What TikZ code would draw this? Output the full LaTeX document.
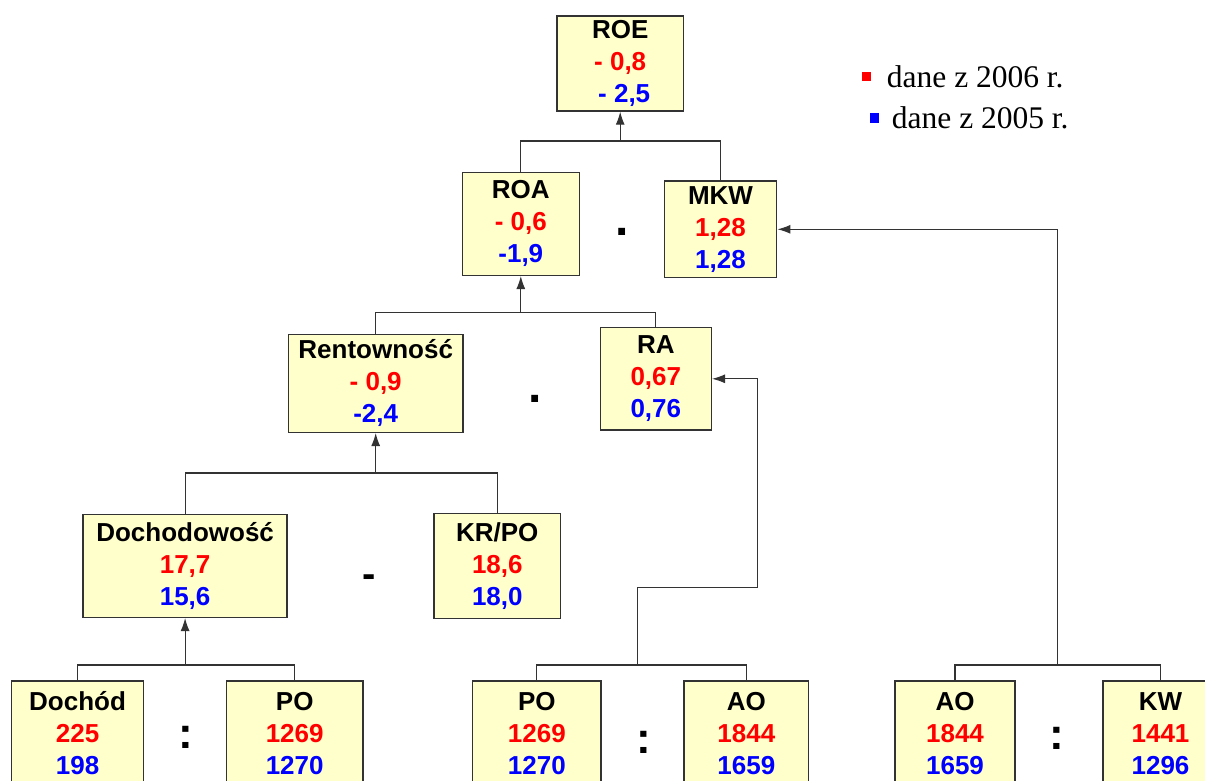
\documentclass[tikz,border=0pt]{standalone}
\usepackage{fontspec}
\setmainfont{Liberation Sans}
\newfontfamily\legfont{Liberation Serif}
\usetikzlibrary{arrows.meta}
\definecolor{boxfill}{HTML}{FFFFCC}
\definecolor{vred}{HTML}{FF0000}
\definecolor{vblue}{HTML}{0000FF}
\definecolor{edgecol}{HTML}{333333}
\newcommand{\rv}[1]{\textcolor{vred}{#1}}
\newcommand{\bv}[1]{\textcolor{vblue}{#1}}
\begin{document}
\begin{tikzpicture}[x=1pt,y=-1pt,
  valbox/.style={draw=edgecol, line width=1.5pt, fill=boxfill, align=center, inner sep=0pt,
    font=\fontsize{26}{32}\selectfont\bfseries},
  conn/.style={draw=edgecol, line width=1.1pt},
  arr/.style={conn, -{Latex[length=13pt,width=9pt]}},
  op/.style={inner sep=0pt},
  legtext/.style={anchor=base west, inner sep=0pt, font=\legfont\fontsize{31.5}{31.5}\selectfont}]
\path[use as bounding box] (0,0) rectangle (1205,781);
\clip (0,0) rectangle (1205,781);

% boxes
\node[valbox, minimum width=126.5pt, minimum height=95pt] (roe) at (620.2,63.5)
  {ROE\\\rv{- 0,8}\\\bv{\hspace{8pt}- 2,5}};
\node[valbox, minimum width=117pt, minimum height=103pt] (roa) at (520.8,223.8)
  {ROA\\\rv{- 0,6}\\\bv{-1,9}};
\node[valbox, minimum width=112.4pt, minimum height=96.7pt] (mkw) at (720.5,229.3)
  {MKW\\\rv{1,28}\\\bv{1,28}};
\node[valbox, minimum width=174.6pt, minimum height=98pt] (rent) at (375.7,383.3)
  {Rentowność\\\rv{- 0,9}\\\bv{-2,4}};
\node[valbox, minimum width=111pt, minimum height=102.3pt] (ra) at (655.8,378.8)
  {RA\\\rv{0,67}\\\bv{0,76}};
\node[valbox, minimum width=203.8pt, minimum height=103pt] (doch) at (185.1,565.8)
  {Dochodowość\\\rv{17,7}\\\bv{15,6}};
\node[valbox, minimum width=126.7pt, minimum height=105pt] (krpo) at (497.3,565.8)
  {KR/PO\\\rv{18,6}\\\bv{18,0}};
\node[valbox, minimum width=132.2pt, minimum height=105pt] (dochod) at (77.6,733.5)
  {Dochód\\\rv{225}\\\bv{198}};
\node[valbox, minimum width=136.1pt, minimum height=105pt] (poa) at (294.7,733.5)
  {PO\\\rv{1269}\\\bv{1270}};
\node[valbox, minimum width=128.3pt, minimum height=105pt] (pob) at (536.8,733.5)
  {PO\\\rv{1269}\\\bv{1270}};
\node[valbox, minimum width=124.6pt, minimum height=105pt] (aoa) at (746.3,733.5)
  {AO\\\rv{1844}\\\bv{1659}};
\node[valbox, minimum width=120pt, minimum height=105pt] (aob) at (955,733.5)
  {AO\\\rv{1844}\\\bv{1659}};
\node[valbox, minimum width=115pt, minimum height=105pt] (kw) at (1160.5,733.5)
  {KW\\\rv{1441}\\\bv{1296}};

% connectors
\coordinate (j1) at (roe.south |- 0,141);
\draw[conn] (roa.north) |- (j1) -| (mkw.north);
\draw[arr] (j1) -- (roe.south);

\coordinate (j2) at (roa.south |- 0,312.3);
\draw[conn] (rent.north) |- (j2) -| (ra.north);
\draw[arr] (j2) -- (roa.south);

\coordinate (j3) at (rent.south |- 0,473);
\draw[conn] (doch.north) |- (j3) -| (krpo.north);
\draw[arr] (j3) -- (rent.south);

\coordinate (j4) at (doch.south |- 0,665);
\draw[conn] (dochod.north) |- (j4) -| (poa.north);
\draw[arr] (j4) -- (doch.south);

\coordinate (j5) at (637.8,665);
\coordinate (k1) at (757.3,587.3);
\draw[conn] (pob.north) |- (j5) -| (aoa.north);
\draw[arr] (j5) |- (k1) |- (ra.east);

\coordinate (j6) at (1057.4,665);
\draw[conn] (aob.north) |- (j6) -| (kw.north);
\draw[arr] (j6) |- (mkw.east);

% operators
\node[op, font=\fontsize{48}{48}\selectfont\bfseries] (d1) at (622.5,232) {.};
\node[op, font=\fontsize{48}{48}\selectfont\bfseries] (d2) at (535,399) {.};
\node[op, font=\fontsize{40}{40}\selectfont\bfseries] (m1) at (369.5,581) {-};
\node[op, font=\fontsize{44}{44}\selectfont\bfseries] (c1) at (185.5,737) {:};
\node[op, font=\fontsize{44}{44}\selectfont\bfseries] (c2) at (644,742) {:};
\node[op, font=\fontsize{44}{44}\selectfont\bfseries] (c3) at (1057,738) {:};

% legend
\fill[vred] (861.7,71.7) rectangle (871,80.7);
\node[legtext] (leg1) at (886.7,87.7) {dane z 2006 r.};
\fill[vblue] (870,113.3) rectangle (879.3,122.7);
\node[legtext] (leg2) at (891.7,129) {dane z 2005 r.};
\end{tikzpicture}
\end{document}
